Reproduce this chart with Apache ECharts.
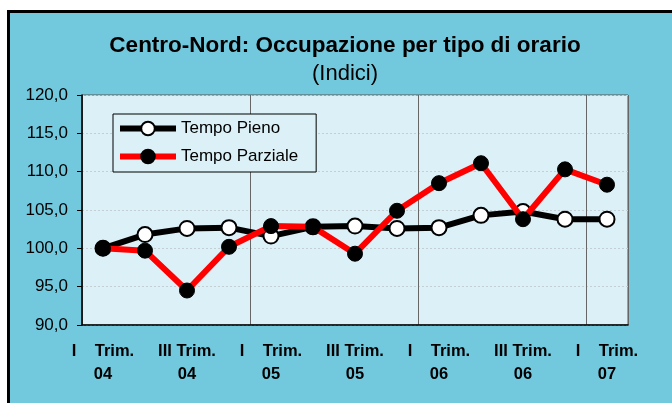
<!DOCTYPE html>
<html>
<head>
<meta charset="utf-8">
<script src="https://cdn.jsdelivr.net/npm/echarts@6/dist/echarts.min.js"></script>
<style>
  html, body { margin: 0; padding: 0; background: #ffffff; overflow: hidden; }
  #frame {
    position: absolute; left: 7px; top: 10px; width: 700px; height: 420px;
    background: #72c9de; border: 3px solid #000; box-sizing: border-box;
  }
  #chart { position: absolute; left: 0; top: 0; width: 672px; height: 403px; }
</style>
</head>
<body>
<div id="frame"></div>
<div id="chart"></div>
<script>
// Quarters, I Trim. 2004 to I Trim. 2007
const categories = [
  'I Trim. 04', 'II Trim. 04', 'III Trim. 04', 'IV Trim. 04',
  'I Trim. 05', 'II Trim. 05', 'III Trim. 05', 'IV Trim. 05',
  'I Trim. 06', 'II Trim. 06', 'III Trim. 06', 'IV Trim. 06',
  'I Trim. 07'
];
// Index values (I Trim. 04 = 100)
const tempoPieno = [100.0, 101.8, 102.6, 102.7, 101.6, 102.8, 102.9, 102.6, 102.7, 104.3, 104.8, 103.8, 103.8];
const tempoParziale = [100.0, 99.7, 94.5, 100.2, 102.9, 102.8, 99.3, 104.9, 108.5, 111.1, 103.8, 110.3, 108.3];
const yTicks = { min: 90, max: 120, step: 5 };

const chart = echarts.init(document.getElementById('chart'));
const FONT = '"Liberation Sans", Arial, sans-serif';

// Two-line quarter label: "III Trim." on top, the year below
function quarterLabel(v) {
  const i = v.lastIndexOf(' ');
  let head = v.slice(0, i);
  if (head === 'I Trim.') head = 'I    Trim.';
  return head + '\n' + v.slice(i + 1);
}

chart.setOption({
  backgroundColor: 'transparent',
  animation: false,
  textStyle: { fontFamily: FONT },
  title: [
    {
      text: 'Centro-Nord: Occupazione per tipo di orario',
      left: 340, top: 29, textAlign: 'center',
      textStyle: { fontFamily: FONT, fontSize: 22.5, fontWeight: 'bold', color: '#000' }
    },
    {
      text: '(Indici)',
      left: 340, top: 58, textAlign: 'center',
      textStyle: { fontFamily: FONT, fontSize: 22, fontWeight: 'normal', color: '#000' }
    }
  ],
  legend: {
    left: 113, top: 114,
    orient: 'vertical',
    itemWidth: 56, itemHeight: 17, itemGap: 11,
    padding: [6, 18, 7, 4],
    backgroundColor: '#dbf0f7',
    borderColor: '#000', borderWidth: 1, borderRadius: 0,
    lineStyle: { width: 6 },
    textStyle: { fontFamily: FONT, fontSize: 17, color: '#000' },
    data: ['Tempo Pieno', 'Tempo Parziale']
  },
  grid: {
    left: 82, top: 95, width: 546, height: 230,
    show: true, backgroundColor: '#dbf0f7',
    borderColor: '#555', borderWidth: 1
  },
  xAxis: {
    type: 'category',
    data: categories,
    boundaryGap: true,
    axisLine: { lineStyle: { color: '#000', width: 1.5 } },
    axisTick: { show: false },
    axisLabel: {
      interval: 1, margin: 15, lineHeight: 23,
      fontFamily: FONT, fontSize: 16.5, fontWeight: 'bold', color: '#000',
      formatter: quarterLabel
    },
    splitLine: { show: true, interval: 3, lineStyle: { color: '#666', width: 1 } }
  },
  yAxis: {
    type: 'value',
    min: yTicks.min, max: yTicks.max, interval: yTicks.step,
    axisLine: { show: true, lineStyle: { color: '#000', width: 1.5 } },
    axisTick: { show: true, length: 5, lineStyle: { color: '#000' } },
    axisLabel: {
      margin: 14, fontFamily: FONT, fontSize: 17, color: '#000',
      formatter: v => v.toFixed(1).replace('.', ',')
    },
    splitLine: { show: true, lineStyle: { color: '#c4cfd3', type: [2, 2], width: 1 } }
  },
  series: [
    {
      name: 'Tempo Pieno', type: 'line', data: tempoPieno,
      symbol: 'circle', symbolSize: 15,
      lineStyle: { color: '#000', width: 6 },
      itemStyle: { color: '#fff', borderColor: '#000', borderWidth: 2 },
      z: 3
    },
    {
      name: 'Tempo Parziale', type: 'line', data: tempoParziale,
      symbol: 'circle', symbolSize: 15,
      lineStyle: { color: '#ff0000', width: 6 },
      itemStyle: { color: '#000', borderColor: '#000', borderWidth: 1 },
      z: 4
    }
  ]
});
</script>
</body>
</html>
